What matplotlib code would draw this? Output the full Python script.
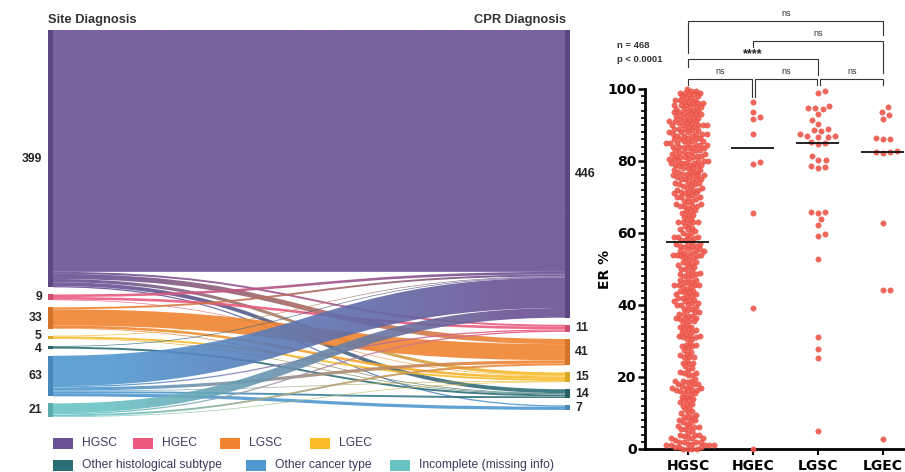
import numpy as np
import matplotlib
matplotlib.use('Agg')
import matplotlib.pyplot as plt
from matplotlib.path import Path
from matplotlib.patches import PathPatch, Rectangle
from matplotlib.colors import to_rgb
from matplotlib.ticker import MultipleLocator

plt.rcParams['font.family'] = ['Liberation Sans', 'DejaVu Sans']

# ---------------- data ----------------
site_labels = ["HGSC", "HGEC", "LGSC", "LGEC", "Other histological subtype",
               "Other cancer type", "Incomplete (missing info)"]
site_counts = [399, 9, 33, 5, 4, 63, 21]
cpr_labels = ["HGSC", "HGEC", "LGSC", "LGEC", "Other histological subtype",
              "Other cancer type"]
cpr_counts = [446, 11, 41, 15, 14, 7]
# rows = site diagnosis, columns = CPR diagnosis
flows = [
    [375, 3, 8, 5, 6, 2],
    [4, 4, 0, 1, 0, 0],
    [3, 0, 25, 4, 1, 0],
    [1, 0, 0, 3, 1, 0],
    [1, 0, 0, 0, 3, 0],
    [47, 2, 5, 1, 3, 5],
    [15, 2, 3, 1, 0, 0],
]
cat_colors = ['#6a5193', '#ea5a7e', '#f08430', '#f9bb2a', '#2c6e76', '#4f98d1', '#69c3c4']

er_groups = ["HGSC", "HGEC", "LGSC", "LGEC"]
er_hgsc = [
    100, 99.5, 99.5, 99, 99, 99, 98.5, 98.5, 98, 98, 97.5, 97.5, 97, 97, 97, 96.5, 96.5,
    96, 96, 96, 95.5, 95.5, 95.5, 95, 95, 95,
    94.5, 94.5, 94, 94, 94, 93.5, 93.5, 93, 93, 93, 93, 92.5, 92.5, 92, 92, 92, 91.5, 91.5,
    91, 91, 91, 90.5, 90.5, 90.5, 90, 90, 90, 90, 90,
    89.5, 89.5, 89, 89, 89, 88.5, 88.5, 88, 88, 88, 87.5, 87.5, 87.5, 87.5, 87, 87, 87,
    86.5, 86.5, 86, 86, 86, 85.5, 85.5, 85.5, 85, 85, 85, 85,
    84.5, 84.5, 84.5, 84, 84, 84, 84, 83.5, 83.5, 83, 83, 83, 82.5, 82.5, 82.5, 82, 82, 82,
    81.5, 81.5, 81.5, 81, 81, 81, 80.5, 80.5, 80.5, 80, 80, 80, 80,
    79.5, 79.5, 79.5, 79.5, 79, 79, 79, 78.5, 78.5, 78, 78, 78, 77.5, 77.5, 77, 77, 77,
    76.5, 76.5, 76, 76, 76, 76, 75.5, 75.5, 75, 75, 75, 75,
    74.5, 74, 74, 74, 73.5, 73.5, 73, 73, 72.5, 72.5, 72, 72, 72, 71.5, 71.5, 71, 71, 71,
    70.5, 70, 70, 70, 70,
    69.5, 69, 69, 68.5, 68, 68, 67.5, 67.5, 67.5, 67.5, 67, 66.5, 66, 66, 65.5, 65, 65,
    64.5, 64, 63.5, 63, 63, 63, 63, 62.5, 62, 61.5, 61, 61, 60.5, 60, 60,
    59.5, 59, 59, 59, 58.5, 58.5, 58, 58, 57.5, 57, 57, 57, 56.5, 56.5, 56, 56, 55.5, 55.5,
    55, 55, 55,
    54.5, 54.5, 54, 54, 54, 54, 53.5, 53.5, 53, 53, 52.5, 52, 52, 51.5, 51.5, 51, 50.5,
    50.5, 50, 50,
    49.5, 49, 49, 48.5, 48.5, 48, 48, 47.5, 47, 47, 46.5, 46.5, 46, 45.5, 45.5, 45.5, 45.5,
    45, 45,
    44.5, 44, 44, 43.5, 43.5, 43, 43, 42.5, 42.5, 42, 42, 41.5, 41.5, 41, 41, 40.5, 40.5,
    40, 40, 40,
    39.5, 39, 39, 38.5, 38, 38, 37.5, 37.5, 37, 37, 36.5, 36.5, 36, 36, 35.5, 35.5, 35,
    34.5, 34, 34, 33.5, 33, 33, 32.5, 32.5, 32, 31.5, 31.5, 31.5, 31, 31, 30.5, 30.5,
    29.5, 29, 29, 28.5, 28.5, 28, 27.5, 27, 26.5, 26, 25.5, 25.5, 25.5,
    24.5, 24, 24, 23.5, 23, 22.5, 22, 21.5, 21, 21, 20.5, 20.5,
    19.5, 19, 19, 19, 18.5, 18, 18, 18, 17.5, 17.5, 17, 17, 17, 16.5, 16.5, 16.5, 16, 16,
    15.5, 15.5, 15,
    14.5, 14.5, 14, 13.5, 13.5, 13, 12.5, 12.5, 12, 11.5, 11, 10.5,
    10, 10, 9.5, 9, 9, 8.5, 8, 8, 7.5, 7.5, 7, 6.5, 6, 6, 6, 5.5, 5.5,
    5, 4.5, 4, 4, 4, 3.5, 3, 3, 3, 3, 2.5, 2, 2, 2, 2, 1.5, 1.5, 1, 1, 1, 1, 1,
    0.5, 0.5, 0.5, 0, 0, 0, 0,
]
er_hgec = [96.5, 93.7, 91.6, 92.1, 87.5, 79.8, 79.1, 65.6, 39.1, 0]
er_lgsc = [99.5, 99.0, 95.2, 94.8, 94.8, 94.4, 93.0, 91.4, 90.2, 89.0, 88.6, 88.3, 87.4,
           86.9, 86.8, 86.6, 86.9, 85.3, 85.0, 84.6, 81.4, 80.3, 80.2, 78.0, 78.4, 78.7,
           65.9, 65.6, 65.9, 63.9, 62.2, 59.6, 59.2, 52.7, 31.2, 27.8, 25.3, 5.0]
er_lgec = [94.9, 93.7, 92.8, 91.7, 86.1, 86.1, 86.5, 82.8, 82.1, 82.4, 82.6, 62.7,
           44.2, 44.2, 2.7]
er_medians = [57.5, 83.5, 85.0, 82.5]
stats_text = ["n = 468", "p < 0.0001"]
comparisons = [(0, 1, 'ns'), (1, 2, 'ns'), (2, 3, 'ns'), (0, 2, '****'), (1, 3, 'ns'), (0, 3, 'ns')]

# ---------------- figure ----------------
W, H = 905, 472
fig = plt.figure(figsize=(W / 100, H / 100), dpi=100)


def fx(x):
    return x / W


def fy(y):
    return 1 - y / H


# ---------------- Sankey ----------------
ax = fig.add_axes([fx(48), fy(417), 522 / W, 387 / H])
ax.axis('off')
gap = 11.0
nw = 5 / 522.0
upp = 600.0 / 387.0   # data units per pixel (vertical)

left_y0 = []
c = 0.0
for v in site_counts:
    left_y0.append(c)
    c += v + gap
left_total = c - gap
right_y0 = []
c = 0.0
for v in cpr_counts:
    right_y0.append(c)
    c += v + gap

ns, nt = len(site_counts), len(cpr_counts)
src_top = np.zeros((ns, nt))
tgt_top = np.zeros((ns, nt))
for i in range(ns):
    cur = left_y0[i]
    for j in range(nt):
        src_top[i, j] = cur
        cur += flows[i][j]
for j in range(nt):
    cur = right_y0[j]
    for i in range(ns):
        tgt_top[i, j] = cur
        cur += flows[i][j]


def link_path(x0, x1, a0, a1, h):
    xm = (x0 + x1) / 2
    verts = [(x0, a0), (xm, a0), (xm, a1), (x1, a1),
             (x1, a1 + h), (xm, a1 + h), (xm, a0 + h), (x0, a0 + h), (x0, a0)]
    codes = [Path.MOVETO, Path.CURVE4, Path.CURVE4, Path.CURVE4,
             Path.LINETO, Path.CURVE4, Path.CURVE4, Path.CURVE4, Path.CLOSEPOLY]
    return Path(verts, codes)


x0, x1 = nw, 1 - nw
link_alpha = 0.9
for i in range(ns):
    for j in range(nt):
        f = flows[i][j]
        if f <= 0:
            continue
        p = link_path(x0, x1, src_top[i, j], tgt_top[i, j], f)
        patch = PathPatch(p, facecolor='none', edgecolor='none', transform=ax.transData)
        ax.add_patch(patch)
        ca = np.array(to_rgb(cat_colors[i]))
        cb = np.array(to_rgb(cat_colors[j]))
        t = np.linspace(0, 1, 256)
        t = np.clip((t - 0.1) / 0.8, 0, 1)
        grad = np.zeros((1, 256, 4))
        grad[0, :, :3] = ca[None, :] * (1 - t[:, None]) + cb[None, :] * t[:, None]
        grad[0, :, 3] = link_alpha
        ymin = min(src_top[i, j], tgt_top[i, j])
        ymax = max(src_top[i, j], tgt_top[i, j]) + f
        im = ax.imshow(grad, extent=(x0, x1, ymax, ymin), aspect='auto',
                       interpolation='bilinear', zorder=1)
        im.set_clip_path(patch)


def darker(col, k=0.88):
    r, g, b = to_rgb(col)
    return (r * k, g * k, b * k)


left_label_nudge_px = [0, 0, 0, -1.5, 1.5, 0, 0]
for i, v in enumerate(site_counts):
    ax.add_patch(Rectangle((0, left_y0[i]), nw, v, facecolor=darker(cat_colors[i]),
                           edgecolor='none', zorder=3))
    ax.text(-6 / 522, left_y0[i] + v / 2 + left_label_nudge_px[i] * upp, str(v),
            ha='right', va='center', fontsize=8.8, fontweight='bold', color='#222222')
for j, v in enumerate(cpr_counts):
    ax.add_patch(Rectangle((1 - nw, right_y0[j]), nw, v, facecolor=darker(cat_colors[j]),
                           edgecolor='none', zorder=3))
    ax.text(1 + 5 / 522, right_y0[j] + v / 2, str(v), ha='left', va='center',
            fontsize=8.8, fontweight='bold', color='#222222')
ax.set_xlim(0, 1)
ax.set_ylim(left_total, 0)

fig.text(fx(48), fy(20), "Site Diagnosis", ha='left', va='center', fontsize=9.3,
         fontweight='bold', color='#333333')
fig.text(fx(566), fy(20), "CPR Diagnosis", ha='right', va='center', fontsize=9.3,
         fontweight='bold', color='#333333')

# legend
legend_pos = [(53, 443), (133, 443), (220, 443), (310, 443),
              (53, 465), (246, 465), (390, 465)]
for k, (lx, ly) in enumerate(legend_pos):
    fig.add_artist(Rectangle((fx(lx), fy(ly + 5.5)), 20 / W, 11 / H,
                             transform=fig.transFigure, facecolor=cat_colors[k],
                             edgecolor='none'))
    fig.text(fx(lx + 29), fy(ly), site_labels[k], ha='left', va='center',
             fontsize=8.7, color='#3d3b5e')

# ---------------- ER dot plot ----------------
bx = fig.add_axes([fx(645), fy(449), 260 / W, 360 / H])
bx.set_xlim(-0.66, 3.34)
bx.set_ylim(0, 100)
px_x = 65.0
px_y = 3.6


def swarm_offsets(vals, dmin):
    vals = np.asarray(vals, float)
    order = np.argsort(vals, kind='stable')
    offs = np.zeros(len(vals))
    cands = [0.0]
    for k in range(1, 160):
        cands += [k * 0.5, -k * 0.5]
    py_list, px_list = [], []
    for idx in order:
        y = vals[idx] * px_y
        near = [(py, pxx) for py, pxx in zip(py_list, px_list) if abs(py - y) < dmin]
        chosen = cands[-1]
        for cnd in cands:
            if all((py - y) ** 2 + (pxx - cnd) ** 2 >= dmin ** 2 for py, pxx in near):
                chosen = cnd
                break
        offs[idx] = chosen
        py_list.append(y)
        px_list.append(chosen)
    return offs


groups = [er_hgsc, er_hgec, er_lgsc, er_lgec]
dmins = [4.3, 7.0, 7.0, 7.0]
for g, (vals, dm) in enumerate(zip(groups, dmins)):
    offs = swarm_offsets(vals, dm)
    bx.scatter(g + offs / px_x, vals, s=15, facecolor='#f05a4e', edgecolor='#e2473b',
               linewidths=0.3, alpha=0.92, clip_on=False, zorder=3)
    bx.plot([g - 0.33, g + 0.33], [er_medians[g], er_medians[g]], color='#111111',
            lw=1.3, zorder=4, solid_capstyle='butt')

for s in ['top', 'right']:
    bx.spines[s].set_visible(False)
for s in ['left', 'bottom']:
    bx.spines[s].set_linewidth(2.0)
bx.set_yticks([0, 20, 40, 60, 80, 100])
bx.yaxis.set_minor_locator(MultipleLocator(2))
bx.tick_params(axis='y', which='major', length=5, width=1.8, pad=1)
bx.tick_params(axis='y', which='minor', length=3, width=1.2)
bx.set_xticks(range(4))
bx.set_xticklabels(er_groups)
bx.tick_params(axis='x', which='major', length=4, width=1.5, pad=3)
for lab in bx.get_yticklabels() + bx.get_xticklabels():
    lab.set_fontfamily('DejaVu Sans')
    lab.set_fontweight('bold')
    lab.set_fontsize(10)
bx.set_ylabel('ER %', fontsize=10, fontweight='bold', family='DejaVu Sans')
bx.yaxis.set_label_coords(-0.127, 0.5)


def vpx(y):
    return (449 - y) / px_y


def cx(x):
    return (x - 688) / px_x


bracket_geom = [
    # x_left_px, x_right_px, y_px, left_leg_end_px, right_leg_end_px, label_x_px, label_y_px
    (688, 752, 79.3, 85, 96.7, 720, 72),
    (755, 817.5, 79.3, 96.7, 85, 786, 72),
    (820, 883, 79.3, 85, 85, 852, 72),
    (688, 818, 59, 66.7, 75, 753, 53),
    (753, 883, 40.7, 46.7, 72.7, 818, 33.5),
    (688, 883, 20.7, 53.3, 35, 786, 13),
]
for (a, b, lab), (xl, xr, yb, ll, rl, lxp, lyp) in zip(comparisons, bracket_geom):
    bx.plot([cx(xl), cx(xl), cx(xr), cx(xr)], [vpx(ll), vpx(yb), vpx(yb), vpx(rl)],
            color='#333333', lw=0.8, clip_on=False, solid_joinstyle='miter')
    if lab == 'ns':
        bx.text(cx(lxp), vpx(lyp), lab, ha='center', va='center', fontsize=6.5,
                color='#333333', clip_on=False)
    else:
        bx.text(cx(lxp), vpx(lyp + 1.5), lab, ha='center', va='center', fontsize=9,
                fontweight='bold', color='#222222', clip_on=False)

fig.text(fx(617), fy(46), stats_text[0], ha='left', va='center', fontsize=6.8,
         fontweight='bold', color='#333333')
fig.text(fx(617), fy(59.5), stats_text[1], ha='left', va='center', fontsize=6.8,
         fontweight='bold', color='#333333')

fig.savefig('out.png', dpi=100)
